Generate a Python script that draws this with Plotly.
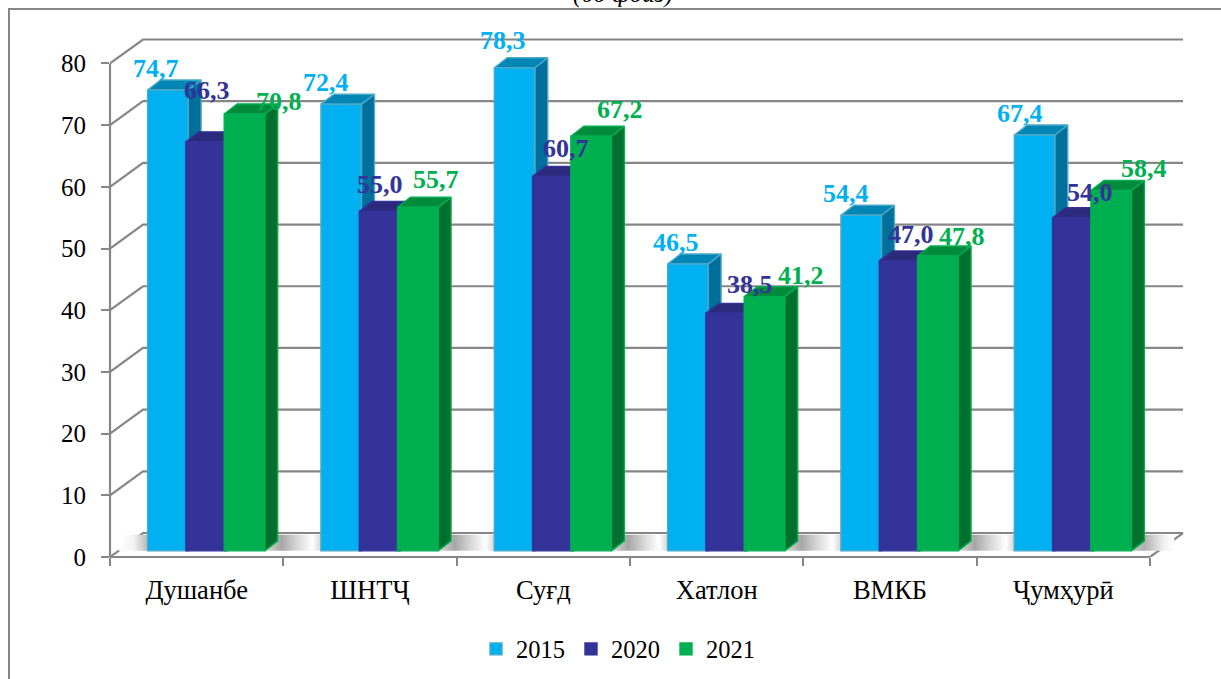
import plotly.graph_objects as go

categories = ["Душанбе", "ШНТҶ", "Суғд", "Хатлон", "ВМКБ", "Ҷумҳурӣ"]
years = ["2015", "2020", "2021"]
values_2015 = [74.7, 72.4, 78.3, 46.5, 54.4, 67.4]
values_2020 = [66.3, 55.0, 60.7, 38.5, 47.0, 54.0]
values_2021 = [70.8, 55.7, 67.2, 41.2, 47.8, 58.4]
y_ticks = [0, 10, 20, 30, 40, 50, 60, 70, 80]
unit_label = "(бо фоиз)"

# Styling and pseudo-3D projection (not data)
series = [values_2015, values_2020, values_2021]
FONT = "Liberation Serif"
W, H = 1221, 679
L, R, T, B = 110.0, 1195.0, 30.0, 557.5
PX_X = 1040 / 6            # px per category
PX_Y = 494 / 80            # px per value unit
X_MAX = (R - L) / PX_X
Y_MAX = (B - T) / PX_Y
WALL_X, WALL_Y = 33 / PX_X, 24 / PX_Y   # back wall shift
DEPTH_X, DEPTH_Y = 13 / PX_X, 10 / PX_Y  # bar depth
LIFT = 1.0                 # bars stand slightly above the front of the floor
BAR_W = 40.5 / PX_X
BAR_STEP = 38.3 / PX_X
FIRST = 0.217
GRID = "#868686"
front = ["#00B0F0", "#333399", "#00B050"]
top = ["#0085B5", "#2B2A7C", "#008A3C"]
side = ["#006F9B", "#24235F", "#00702F"]
edge = ["#4BA9C8", "#333399", "#00B050"]
# label nudges in px from the top centre of each bar: (right, up)
nudges = [
    [(-12, 22), (-15, 22), (-12, 27), (-12, 21), (-15, 22), (-15, 22)],
    [(1, 51), (0, 27), (13, 28), (24, 29), (11, 26), (17, 25)],
    [(35, 13), (18, 28), (29, 27), (37, 21), (24, 19), (33, 22)],
]

fig = go.Figure()

# Gridlines on the wall and side
gx, gy = [], []
for v in y_ticks:
    gx += [0, WALL_X, len(categories) + WALL_X, None]
    gy += [v, v + WALL_Y, v + WALL_Y, None]
gx += [len(categories), len(categories) + WALL_X]
gy += [0, WALL_Y]
fig.add_trace(go.Scatter(x=gx, y=gy, mode="lines", line=dict(color=GRID, width=2.2),
                         cliponaxis=False, showlegend=False, hoverinfo="skip", zorder=1))

# Soft shadows on the floor between the bar groups
def bar_left(i, s):
    return i + FIRST + s * BAR_STEP

gaps = [(0.05, bar_left(0, 0) + 0.02, [[0, "#ffffff"], [0.45, "#f4f4f4"], [1, "#a9a9a9"]])]
for i in range(len(categories) - 1):
    gaps.append((bar_left(i, 2) + BAR_W, bar_left(i + 1, 0) + 0.02,
                 [[0, "#dcdcdc"], [0.28, "#a6a6a6"], [0.55, "#d8d8d8"], [0.8, "#ffffff"], [1, "#c4c4c4"]]))
gaps.append((bar_left(5, 2) + BAR_W, len(categories) + 0.14,
             [[0, "#c8c8c8"], [0.3, "#b0b0b0"], [0.75, "#efefef"], [1, "#ffffff"]]))
for a, b, scale in gaps:
    fig.add_trace(go.Scatter(x=[a, b, b, a, a], y=[LIFT, LIFT, WALL_Y - 0.3, WALL_Y - 0.3, LIFT],
                             mode="none", fill="toself",
                             fillgradient=dict(type="horizontal", colorscale=scale),
                             showlegend=False, hoverinfo="skip", zorder=2))

# Bars: depth faces first, then the front face, one series over the other
for s, vals in enumerate(series):
    for i, v in enumerate(vals):
        x0 = bar_left(i, s)
        x1 = x0 + BAR_W
        t = v + LIFT
        fig.add_trace(go.Scatter(
            x=[x1, x1 + DEPTH_X, x1 + DEPTH_X, x1, x1],
            y=[t, t + DEPTH_Y, LIFT + DEPTH_Y, LIFT, t],
            mode="lines", fill="toself", fillcolor=side[s], line=dict(color=edge[s], width=1.4),
            showlegend=False, hoverinfo="skip", zorder=3 + 2 * s))
        fig.add_trace(go.Scatter(
            x=[x0, x0 + DEPTH_X, x1 + DEPTH_X, x1, x0],
            y=[t, t + DEPTH_Y, t + DEPTH_Y, t, t],
            mode="lines", fill="toself", fillcolor=top[s], line=dict(color=edge[s], width=1.4),
            showlegend=False, hoverinfo="skip", zorder=3 + 2 * s))
    fig.add_trace(go.Bar(
        name=years[s],
        x=[bar_left(i, s) + BAR_W / 2 for i in range(len(categories))],
        y=vals, base=LIFT, width=BAR_W,
        marker=dict(color=front[s], line=dict(color=edge[s], width=1.4)),
        zorder=4 + 2 * s))

# Value labels
for s, vals in enumerate(series):
    for i, v in enumerate(vals):
        dx, dy = nudges[s][i]
        fig.add_annotation(x=bar_left(i, s) + BAR_W / 2, y=v + LIFT, xref="x", yref="y",
                           text=f"{v:.1f}".replace(".", ","), showarrow=False,
                           xshift=dx, yshift=dy, xanchor="center", yanchor="middle",
                           font=dict(family=FONT, size=26, color=front[s], weight=700))

pw, ph = R - L, B - T
def paper_x(px):
    return (px - L) / pw
def paper_y(px):
    return (B - px) / ph

# Value-axis line and front edge of the floor (paper refs so they are not clipped)
fig.add_shape(type="line", xref="paper", yref="paper", x0=0, x1=0, y0=0, y1=y_ticks[-1] / Y_MAX,
              line=dict(color=GRID, width=2.2))
fig.add_shape(type="line", xref="paper", yref="paper", x0=0, x1=len(categories) / X_MAX, y0=0, y1=0,
              line=dict(color=GRID, width=2.2))

# Unit caption, cut off by the top of the page as in the source
fig.add_annotation(x=paper_x(623), y=paper_y(10), xref="paper", yref="paper",
                   text=f"<i>{unit_label}</i>", showarrow=False, xanchor="center", yanchor="bottom",
                   font=dict(family=FONT, size=25, color="#000000"))
# Outer frame, running off the right and bottom of the page
fig.add_shape(type="rect", xref="paper", yref="paper", x0=paper_x(9), y0=paper_y(720),
              x1=paper_x(1300), y1=paper_y(9), line=dict(color=GRID, width=2))

fig.update_layout(
    width=W, height=H, autosize=False,
    margin=dict(l=L, r=W - R, t=T, b=H - B, pad=0),
    paper_bgcolor="#ffffff", plot_bgcolor="#ffffff",
    barmode="overlay",
    font=dict(family=FONT, size=24, color="#000000"),
    legend=dict(orientation="h", xref="container", yref="container", x=476 / W, xanchor="left",
                y=1 - 649 / H, yanchor="middle",
                font=dict(family=FONT, size=24.5), entrywidth=50, entrywidthmode="pixels",
                traceorder="normal", bgcolor="rgba(0,0,0,0)"),
    xaxis=dict(range=[0, X_MAX], showgrid=False, zeroline=False, showline=False,
               tickmode="array", tickvals=[i + 0.5 for i in range(len(categories))],
               ticktext=categories, ticks="", ticklabelstandoff=14,
               tickfont=dict(family=FONT, size=26.5),
               minor=dict(tickmode="array", tickvals=list(range(len(categories) + 1)),
                          ticks="outside", ticklen=8, tickwidth=2, tickcolor=GRID, showgrid=False)),
    yaxis=dict(range=[0, Y_MAX], showgrid=False, zeroline=False, showline=False,
               tickmode="array", tickvals=y_ticks, ticktext=[str(v) for v in y_ticks],
               ticks="outside", ticklen=8, tickwidth=2, tickcolor=GRID, ticklabelstandoff=10,
               tickfont=dict(family=FONT, size=25)),
)

fig.write_html("out.html", config={"displayModeBar": False},
               post_script="document.body.style.margin='0';document.body.style.overflow='hidden';")
